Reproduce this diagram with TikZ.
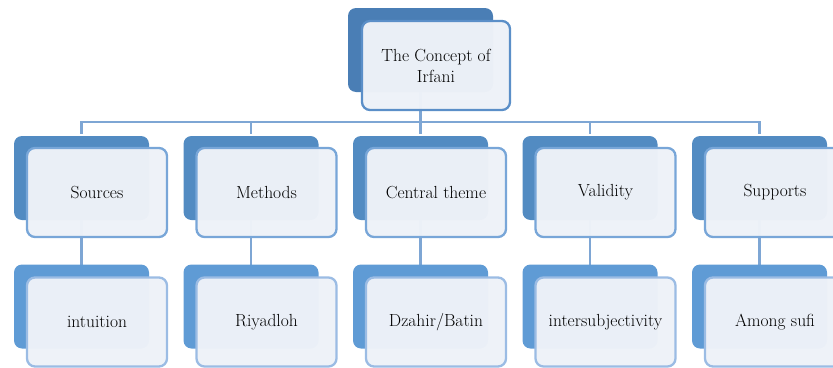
\documentclass[tikz,border=0pt]{standalone}
\usepackage{fontspec}
\usepackage{xcolor}
\usepackage{tikz}
\usetikzlibrary{calc}
\usetikzlibrary{positioning}

\definecolor{topback}{RGB}{74,126,181}
\definecolor{midback}{RGB}{82,139,194}
\definecolor{lowback}{RGB}{95,155,213}
\definecolor{cardfill}{RGB}{238,242,248}
\definecolor{topedge}{RGB}{91,143,200}
\definecolor{midedge}{RGB}{120,166,216}
\definecolor{lowedge}{RGB}{155,188,228}
\definecolor{linkcol}{RGB}{126,166,212}

\tikzset{
  backcard/.style={rectangle, rounded corners=8pt, minimum width=135pt, minimum height=84pt, inner sep=0pt},
  frontcard/.style={rectangle, rounded corners=8pt, draw, line width=2.3pt, fill=cardfill, fill opacity=.975, text opacity=1,
    minimum width=140pt, minimum height=89pt, inner sep=0pt, align=center, font=\fontsize{17.5}{21}\selectfont},
  link/.style={draw=linkcol, line width=2.3pt}
}

\begin{document}
\begin{tikzpicture}[x=1pt, y=-1pt]
\useasboundingbox (0,0) rectangle (833,367);
% root
\node[backcard, fill=topback, minimum width=145pt] (rootb) at (420.5,50) {};
% connectors
\foreach \i in {1,...,5} {
  \coordinate (colb\i) at ({81.5+169.5*(\i-1)},178);
  \coordinate (lowb\i) at ({81.5+169.5*(\i-1)},306.5);
  \draw[link] (rootb.south) -- ++(0,30) -| ($(colb\i)+(0,-44)$);
  \draw[link] (colb\i) -- (lowb\i);
};
\node[frontcard, draw=topedge, minimum width=148pt] (rootf) at (436,65.5) {The Concept of\\Irfani};
% two rows
\foreach \i/\up/\down in {1/Sources/intuition, 2/Methods/Riyadloh, 3/Central theme/Dzahir\slash Batin, 4/Validity/intersubjectivity, 5/Supports/Among sufi} {
  \node[backcard, fill=midback] (midb\i) at (colb\i) {};
  \node[frontcard, draw=midedge] (midf\i) at ($(colb\i)+(15.5,14.5)$) {\up};
  \node[backcard, fill=lowback] (botb\i) at (lowb\i) {};
  \node[frontcard, draw=lowedge] (botf\i) at ($(lowb\i)+(15.5,15.5)$) {\down};
};
\end{tikzpicture}
\end{document}
